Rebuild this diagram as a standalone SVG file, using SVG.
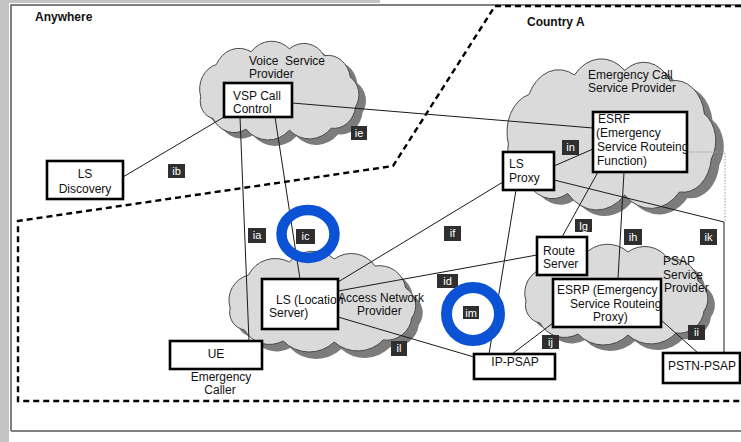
<svg xmlns="http://www.w3.org/2000/svg" xmlns:xlink="http://www.w3.org/1999/xlink" width="741" height="442" viewBox="0 0 741 442">
<style>
  text { font-family: "Liberation Sans", Arial, sans-serif; font-size: 12px; fill: #111; }
  .title { font-weight: bold; font-size: 12px; }
  .box { fill: #fff; stroke: #000; stroke-width: 2.6; }
  .cl { fill: #dadada; stroke: #4a4a4a; stroke-width: 1; }
  .sh { fill: #7c7c7c; stroke: none; }
  .ln { fill: none; stroke: #1a1a1a; stroke-width: 1; }
  .dot { fill: none; stroke: #999; stroke-width: 1; stroke-dasharray: 1.5 1.5; }
  .bd { fill: none; stroke: #000; stroke-width: 2.4; stroke-dasharray: 6 4; }
  .lb rect { fill: #2f2f2f; }
  .lb text { fill: #fff; font-size: 11px; text-anchor: middle; }
  .ring { fill: none; stroke: #0b52d4; }
  .mid { text-anchor: middle; }
</style>
<defs>
  <path id="cloud" vector-effect="non-scaling-stroke" d="M10,58 A26,26 0 0 1 28,25 A29,29 0 0 1 68,12 A31,31 0 0 1 112,9 A28,28 0 0 1 152,16 A26,26 0 0 1 182,38 A21,21 0 0 1 188,68 A25,25 0 0 1 160,90 A34,34 0 0 1 112,92 A35,35 0 0 1 62,91 A28,28 0 0 1 24,80 A18,18 0 0 1 10,58 Z"/>
</defs>

<!-- background / frame -->
<rect x="0" y="0" width="741" height="442" fill="#fff"/>
<rect x="0" y="0" width="9" height="442" fill="#c3c3c3"/>
<rect x="0" y="0" width="380" height="3" fill="#c3c3c3"/>
<path d="M11,431 V5 H741 M11,431 H741" fill="none" stroke="#555" stroke-width="1.5"/>

<!-- region boundary -->
<g id="boundary">
  <path class="bd" d="M741,6 H495 L393,166 L18,221 V401 H741"/>
  <text class="title" x="35" y="21">Anywhere</text>
  <text class="title" x="527" y="26">Country A</text>
</g>

<!-- clouds -->
<g id="cloud-vsp">
  <use href="#cloud" class="sh" transform="translate(199,46) scale(0.87,0.98)"/>
  <use href="#cloud" class="cl" transform="translate(192,40) scale(0.87,0.98)"/>
  <text x="249" y="65">Voice&#160; Service</text>
  <text x="249" y="78">Provider</text>
</g>
<g id="cloud-ecsp">
  <use href="#cloud" class="sh" transform="translate(505,63) scale(1.14,1.5)"/>
  <use href="#cloud" class="cl" transform="translate(497,57) scale(1.14,1.5)"/>
  <text x="588" y="79">Emergency Call</text>
  <text x="588" y="92">Service Provider</text>
</g>
<g id="cloud-anp">
  <use href="#cloud" class="sh" transform="translate(227,257) scale(1.02,1.0)"/>
  <use href="#cloud" class="cl" transform="translate(220,250) scale(1.02,1.0)"/>
</g>
<g id="cloud-psap">
  <use href="#cloud" class="sh" transform="translate(523,249) scale(1.0,1.0)"/>
  <use href="#cloud" class="cl" transform="translate(516,243) scale(1.0,1.0)"/>
  <text x="663" y="265">PSAP</text>
  <text x="663" y="279">Service</text>
  <text x="664" y="292">Provider</text>
</g>

<!-- connectors -->
<g id="connectors">
  <path class="dot" d="M687,152 H725 V222"/>
  <line class="ln" x1="292" y1="103" x2="593" y2="128"/>
  <line class="ln" x1="123" y1="177" x2="224" y2="117"/>
  <line class="ln" x1="240" y1="117" x2="249" y2="341"/>
  <line class="ln" x1="275" y1="117" x2="300" y2="279"/>
  <line class="ln" x1="338" y1="282" x2="503" y2="182"/>
  <line class="ln" x1="338" y1="291" x2="537" y2="255"/>
  <line class="ln" x1="338" y1="317" x2="474" y2="357"/>
  <line class="ln" x1="516" y1="190" x2="489" y2="354"/>
  <line class="ln" x1="554" y1="166" x2="593" y2="149"/>
  <polyline class="ln" points="554,180 724,222 724,353"/>
  <line class="ln" x1="598" y1="172" x2="562" y2="237"/>
  <line class="ln" x1="624" y1="172" x2="618" y2="279"/>
  <line class="ln" x1="553" y1="323" x2="512" y2="354"/>
  <line class="ln" x1="661" y1="320" x2="698" y2="353"/>
  <g class="lb">
    <rect x="351" y="126" width="16" height="14"/><text x="359" y="137">ie</text>
    <rect x="168" y="164" width="17" height="14"/><text x="176.5" y="175">ib</text>
    <rect x="248" y="228" width="18" height="15"/><text x="257" y="239">ia</text>
    <rect x="296" y="229" width="19" height="15"/><text x="305.5" y="240">ic</text>
    <rect x="562" y="140" width="17" height="15"/><text x="570.5" y="151">in</text>
    <rect x="444" y="226" width="17" height="15"/><text x="452.5" y="237">if</text>
    <rect x="575" y="219" width="17" height="13"/><text x="583.5" y="229.5">lg</text>
    <rect x="624" y="229" width="18" height="16"/><text x="633" y="240.5">ih</text>
    <rect x="700" y="229" width="17" height="16"/><text x="708.5" y="240.5">ik</text>
    <rect x="437" y="274" width="21" height="14"/><text x="447.5" y="285">id</text>
    <rect x="463" y="306" width="16" height="13"/><text x="471" y="316.5">im</text>
    <rect x="391" y="341" width="16" height="15"/><text x="399" y="352">il</text>
    <rect x="542" y="335" width="17" height="14"/><text x="550.5" y="346">ij</text>
    <rect x="688" y="325" width="17" height="15"/><text x="696.5" y="336">ii</text>
  </g>
</g>

<!-- nodes -->
<g id="vsp-call-control">
  <rect class="box" x="224" y="83" width="68" height="34"/>
  <text x="233" y="100">VSP Call</text>
  <text x="233" y="113">Control</text>
</g>
<g id="ls-discovery">
  <rect class="box" x="47" y="161" width="76" height="38"/>
  <text class="mid" x="85" y="178">LS</text>
  <text class="mid" x="85" y="193">Discovery</text>
</g>
<g id="esrf">
  <rect class="box" x="593" y="112" width="94" height="60"/>
  <text x="598" y="123">ESRF</text>
  <text x="596" y="137">(Emergency</text>
  <text x="597" y="151">Service Routeing</text>
  <text x="597" y="165">Function)</text>
</g>
<g id="ls-proxy">
  <rect class="box" x="503" y="152" width="51" height="38"/>
  <text x="509" y="168">LS</text>
  <text x="509" y="182">Proxy</text>
</g>
<g id="ls-location-server">
  <rect class="box" x="262" y="279" width="76" height="50"/>
  <text x="276" y="304">LS (Location</text>
  <text x="269" y="317">Server)</text>
  <text x="338" y="302">Access Network</text>
  <text x="357" y="315">Provider</text>
</g>
<g id="ue">
  <rect class="box" x="170" y="341" width="92" height="28"/>
  <text class="mid" x="216" y="358">UE</text>
  <text class="mid" x="221" y="381">Emergency</text>
  <text class="mid" x="220" y="394">Caller</text>
</g>
<g id="route-server">
  <rect class="box" x="537" y="237" width="50" height="38"/>
  <text x="543" y="255">Route</text>
  <text x="543" y="268">Server</text>
</g>
<g id="esrp">
  <rect class="box" x="553" y="279" width="108" height="48"/>
  <text x="557" y="294">ESRP (Emergency</text>
  <text x="570" y="308">Service Routeing</text>
  <text x="593" y="321">Proxy)</text>
</g>
<g id="ip-psap">
  <rect class="box" x="474" y="354" width="81" height="25"/>
  <text class="mid" x="515" y="366">IP-PSAP</text>
</g>
<g id="pstn-psap">
  <rect class="box" x="663" y="353" width="77" height="30"/>
  <text x="668" y="370">PSTN-PSAP</text>
</g>

<!-- highlight rings -->
<g id="annotations">
  <ellipse class="ring" cx="308" cy="234" rx="26.5" ry="24" stroke-width="10.5"/>
  <circle class="ring" cx="473" cy="314" r="26.5" stroke-width="11"/>
</g>
</svg>
